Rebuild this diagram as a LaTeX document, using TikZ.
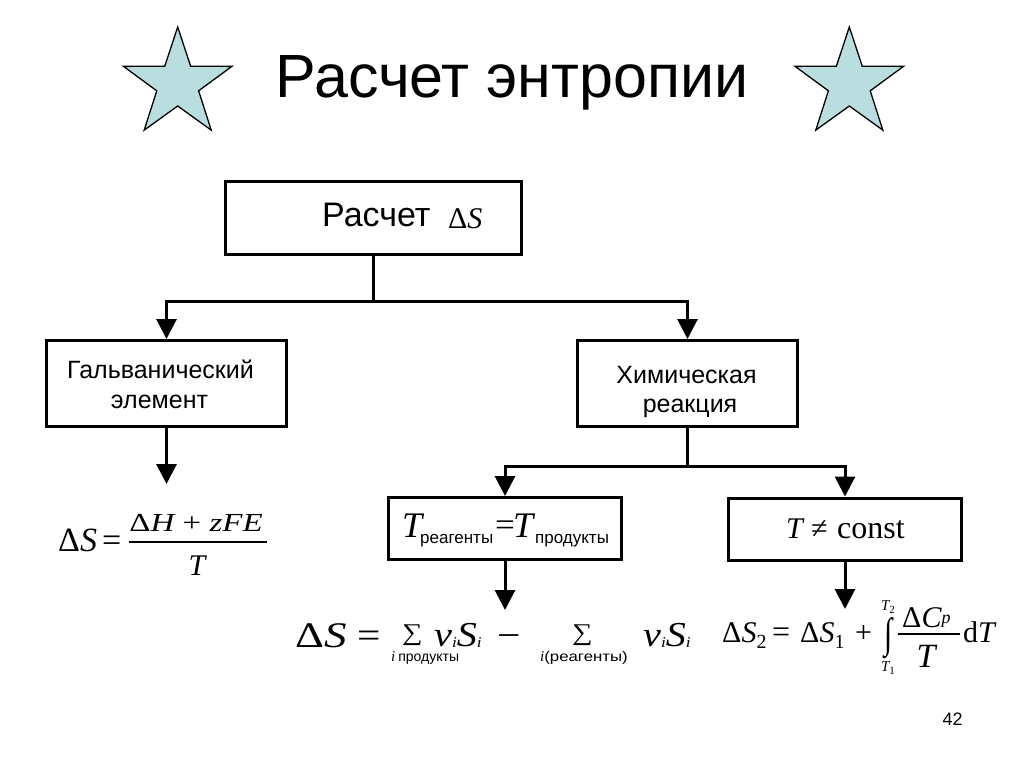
\documentclass[tikz,border=0pt]{standalone}
\usepackage{graphicx}
\usepackage{fontspec}
\setmainfont{Liberation Sans}
\newfontfamily\tms{Liberation Serif}
\usetikzlibrary{arrows.meta}
\newcommand\fsz[1]{\fontsize{#1}{#1}\selectfont}
\newcommand\sv[1]{{\tms\itshape #1}}
\newcommand\sr[1]{{\tms #1}}
\definecolor{starfill}{RGB}{186,222,224}
\begin{document}
\begin{tikzpicture}[x=1pt,y=-1pt,
  box/.style={draw,line width=3pt,inner sep=0pt},
  conn/.style={line width=3pt},
  arr/.style={conn,-{Triangle[width=20pt,length=20pt]}},
  bw/.style={inner sep=0pt,anchor=base west},
  bc/.style={inner sep=0pt,anchor=base},
  starsty/.style={draw=black,line width=1.3pt,fill=starfill,line join=miter},
  fracbar/.style={line width=2pt}]
\fill[white] (0,0) rectangle (1024,767);
\useasboundingbox (0,0) rectangle (1024,767);

% stars
\draw[starsty] (177.7,84) +(-90:57) -- +(-54:22) -- +(-18:57) -- +(18:22) -- +(54:57) -- +(90:22) -- +(126:57) -- +(162:22) -- +(198:57) -- +(234:22) -- cycle;
\draw[starsty] (849.3,84) +(-90:57) -- +(-54:22) -- +(-18:57) -- +(18:22) -- +(54:57) -- +(90:22) -- +(126:57) -- +(162:22) -- +(198:57) -- +(234:22) -- cycle;

% title
\node[bc] (title) at (512,98) {\fsz{61}Расчет энтропии};

% boxes
\node[box,minimum width=296pt,minimum height=73pt] (top) at (373.5,218) {};
\node[box,minimum width=240pt,minimum height=86pt] (left) at (166.5,383.5) {};
\node[box,minimum width=220pt,minimum height=86pt] (right) at (687.5,383.5) {};
\node[box,minimum width=233pt,minimum height=62pt] (tbox) at (505,528.5) {};
\node[box,minimum width=233pt,minimum height=62pt] (cbox) at (845,529) {};

% box texts
\node[bw] (toptxt) at (322,226) {\fsz{34}Расчет};
\node[bw] (topds) at (448,229) {\fsz{30}\sr{Δ}\sv{S}};
\node[bc] (l1) at (160.5,378) {\fsz{25}Гальванический};
\node[bc] (l2) at (159.5,408) {\fsz{25}элемент};
\node[bc] (r1) at (686.5,383) {\fsz{25}Химическая};
\node[bc] (r2) at (690,412) {\fsz{25}реакция};

\node[bw] (tb1) at (402,537) {\fsz{36}\sv{T}};
\node[bw] (tb2) at (420,543) {\fsz{17}реагенты};
\node[bw] (tb3) at (495,535) {\scalebox{1.1}[1]{\fsz{32}\sr{=}}};
\node[bw] (tb4) at (513,537) {\fsz{36}\sv{T}};
\node[bw] (tb5) at (535,543) {\fsz{17}продукты};

\node[bw] (cb1) at (786,538) {\fsz{30}\sv{T}};
\node[bw] (cb2) at (811,538) {\fsz{30}\sr{≠}};
\node[bw] (cb3) at (837,538) {\fsz{32}\sr{const}};

% connectors
\coordinate (j1) at (373.5,301);
\coordinate (j2) at (687.5,466);
\coordinate (la) at (166.5,484);
\coordinate (ta) at (505,610);
\coordinate (ca) at (845,609);
\draw[conn] (top.south) -- (j1);
\draw[arr] (j1) -| (left.north);
\draw[arr] (j1) -| (right.north);
\draw[arr] (left.south) -- (la);
\draw[conn] (right.south) -- (j2);
\draw[arr] (j2) -| (tbox.north);
\draw[arr] (j2) -| (cbox.north);
\draw[arr] (tbox.south) -- (ta);
\draw[arr] (cbox.south) -- (ca);

% left formula
\node[bw] (lf1) at (58,551) {\fsz{34}\sr{Δ}\sv{S}};
\node[bw] (lf2) at (102,551) {\fsz{34}\sr{=}};
\node[bc] (lfn) at (196,531) {\scalebox{1.27}[1]{\fsz{26}\sr{Δ}\sv{H}\sr{ + }\sv{zFE}}};
\draw[fracbar] (129,542) -- (267,542);
\node[bc] (lfd) at (197,575) {\fsz{30}\sv{T}};

% middle formula
\node[bw] (mf1) at (295,647) {\scalebox{1.25}[1]{\fsz{36}\sr{Δ}\sv{S}}};
\node[bw] (mf2) at (357,647) {\scalebox{1.15}[1]{\fsz{36}\sr{=}}};
\node[bw] (mf3) at (402,640) {\scalebox{1.2}[1]{\fsz{24}\sr{∑}}};
\node[bw] (mf4) at (391,661) {\fsz{15}\sv{i}\hspace{3pt}\fsz{14}продукты};
\node[bw] (mf5) at (434,646) {\scalebox{1.15}[1]{\fsz{35}\sv{ν}\raisebox{-1pt}{\fsz{15}\sv{i}}\sv{S}\raisebox{-1pt}{\fsz{15}\sv{i}}}};
\node[bw] (mf6) at (497,647) {\scalebox{1.15}[1]{\fsz{36}\sr{−}}};
\node[bw] (mf7) at (572,640) {\scalebox{1.2}[1]{\fsz{24}\sr{∑}}};
\node[bw] (mf8) at (540,661) {\fsz{15}\sv{i}\scalebox{1.2}[1]{\fsz{14}(реагенты)}};
\node[bw] (mf9) at (643,646) {\scalebox{1.15}[1]{\fsz{35}\sv{ν}\raisebox{-1pt}{\fsz{15}\sv{i}}\sv{S}\raisebox{-1pt}{\fsz{15}\sv{i}}}};

% right formula
\node[bw] (rf1) at (722,642) {\fsz{30}\sr{Δ}\sv{S}\raisebox{-6pt}{\fsz{20}\sr{2}}};
\node[bw] (rf2) at (772,642) {\fsz{32}\sr{=}};
\node[bw] (rf3) at (800,642) {\fsz{30}\sr{Δ}\sv{S}\raisebox{-6pt}{\fsz{20}\sr{1}}};
\node[bw] (rf4) at (855,642) {\fsz{30}\sr{+}};
\node (rint) at (889,638) {\scalebox{1}[1.4]{\fsz{30}\sr{∫}}};
\node[bc] (rt2) at (888,610) {\fsz{15}\sv{T}\raisebox{-3pt}{\fsz{11}\sr{2}}};
\node[bc] (rt1) at (888,671) {\fsz{15}\sv{T}\raisebox{-3pt}{\fsz{11}\sr{1}}};
\node[bw] (rfn) at (902,627) {\fsz{30}\sr{Δ}\sv{C}\raisebox{4pt}{\fsz{18}\sv{p}}};
\draw[fracbar] (898,634) -- (960,634);
\node[bc] (rfd) at (926,667) {\fsz{34}\sv{T}};
\node[bw] (rf5) at (963,642) {\fsz{30}\sr{d}\sv{T}};

% page number
\node[bc] (pg) at (952.5,725) {\fsz{18}42};
\end{tikzpicture}
\end{document}
